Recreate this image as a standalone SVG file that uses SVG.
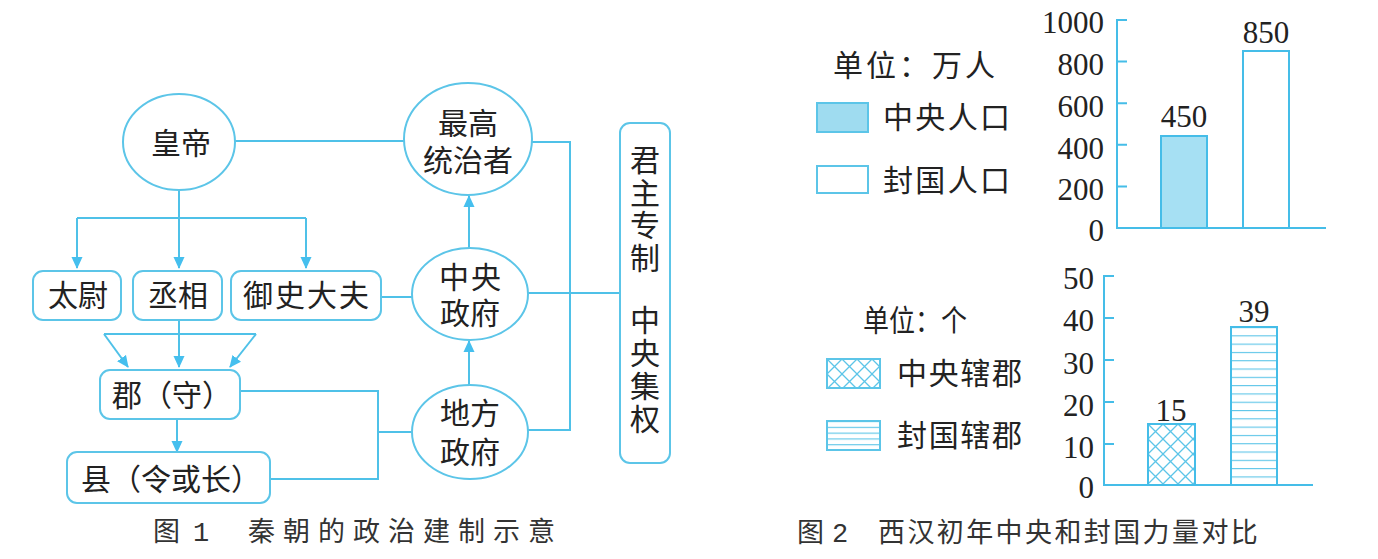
<svg xmlns="http://www.w3.org/2000/svg" width="1378" height="559" viewBox="0 0 1378 559">
<defs>
<style>
.ln{fill:none;stroke:#4fc1e8;stroke-width:2}
.nd{fill:#fff;stroke:#5cc5e8;stroke-width:2}
.cj{font-family:"Noto Sans CJK SC","Noto Sans",sans-serif;font-size:30px;fill:#222}
.vt{font-family:"Noto Sans CJK SC","Noto Sans",sans-serif;font-size:30px;fill:#222;writing-mode:vertical-rl}
.cap{font-family:"Noto Sans CJK SC","Noto Sans",sans-serif;font-size:27px;fill:#333}
.num{font-family:"Liberation Serif",serif;font-size:31px;fill:#222}
.ax{fill:none;stroke:#45bde8;stroke-width:2}
.bar{stroke:#45bde8;stroke-width:2}
</style>
<marker id="ah" viewBox="0 0 12 12" refX="11" refY="6" markerWidth="12" markerHeight="12" markerUnits="userSpaceOnUse" orient="auto">
<path d="M0,0.5 L12,6 L0,11.5 Z" fill="#45bfee"/>
</marker>
<pattern id="xh" width="15" height="15" patternUnits="userSpaceOnUse" x="1148" y="424">
<rect width="15" height="15" fill="#fff"/>
<path d="M0,0 L15,15 M15,0 L0,15" stroke="#5cc5e8" stroke-width="1.3"/>
</pattern>
<pattern id="xh2" width="15" height="15" patternUnits="userSpaceOnUse" x="827" y="359">
<rect width="15" height="15" fill="#fff"/>
<path d="M0,0 L15,15 M15,0 L0,15" stroke="#5cc5e8" stroke-width="1.3"/>
</pattern>
<pattern id="hz" width="10" height="8.3" patternUnits="userSpaceOnUse" x="0" y="327">
<rect width="10" height="8.3" fill="#fff"/>
<path d="M0,0.5 H10" stroke="#5cc5e8" stroke-width="1.2"/>
</pattern>
<pattern id="hz2" width="10" height="5.8" patternUnits="userSpaceOnUse" x="0" y="421">
<rect width="10" height="5.8" fill="#fff"/>
<path d="M0,0.5 H10" stroke="#5cc5e8" stroke-width="1.2"/>
</pattern>
</defs>
<rect width="1378" height="559" fill="#fff"/>

<g id="connectors">
<path class="ln" d="M235,141 H404"/>
<path class="ln" d="M179,190 V268" marker-end="url(#ah)"/>
<path class="ln" d="M77,218 H306"/>
<path class="ln" d="M77,218 V268" marker-end="url(#ah)"/>
<path class="ln" d="M306,218 V268" marker-end="url(#ah)"/>
<path class="ln" d="M381,297 H412"/>
<path class="ln" d="M179,320 V367" marker-end="url(#ah)"/>
<path class="ln" d="M104,334 H256"/>
<path class="ln" d="M104,334 L128,367" marker-end="url(#ah)"/>
<path class="ln" d="M256,334 L230,367" marker-end="url(#ah)"/>
<path class="ln" d="M177,419 V452" marker-end="url(#ah)"/>
<path class="ln" d="M240,391 H378 V479 H270"/>
<path class="ln" d="M378,432 H413"/>
<path class="ln" d="M469,248 V196" marker-end="url(#ah)"/>
<path class="ln" d="M469,385 V341" marker-end="url(#ah)"/>
<path class="ln" d="M532,142 H570 V430 H527"/>
<path class="ln" d="M527,293 H620"/>
</g>

<g id="n-huangdi">
<ellipse class="nd" cx="179" cy="142" rx="56" ry="48"/>
<text class="cj" x="181" y="154" text-anchor="middle">皇帝</text>
</g>
<g id="n-zuigao">
<ellipse class="nd" cx="468" cy="139" rx="64" ry="56"/>
<text class="cj" text-anchor="middle"><tspan x="468" y="134">最高</tspan><tspan x="468" y="171">统治者</tspan></text>
</g>
<g id="n-zhongyang">
<ellipse class="nd" cx="470" cy="294" rx="58" ry="46"/>
<text class="cj" text-anchor="middle"><tspan x="471" y="288" letter-spacing="2">中央</tspan><tspan x="470" y="324" letter-spacing="0">政府</tspan></text>
</g>
<g id="n-difang">
<ellipse class="nd" cx="470" cy="432" rx="58" ry="47"/>
<text class="cj" text-anchor="middle"><tspan x="470" y="424">地方</tspan><tspan x="470" y="463">政府</tspan></text>
</g>
<g id="n-taiwei">
<rect class="nd" x="33" y="271" width="88" height="49" rx="10"/>
<text class="cj" x="78" y="306" text-anchor="middle">太尉</text>
</g>
<g id="n-chengxiang">
<rect class="nd" x="133" y="271" width="89" height="49" rx="10"/>
<text class="cj" x="178" y="306" text-anchor="middle">丞相</text>
</g>
<g id="n-yushi">
<rect class="nd" x="231" y="271" width="150" height="49" rx="10"/>
<text class="cj" x="307" y="306" text-anchor="middle" letter-spacing="2">御史大夫</text>
</g>
<g id="n-jun">
<rect class="nd" x="100" y="370" width="140" height="49" rx="10"/>
<text class="cj" x="172" y="406" text-anchor="middle">郡（守）</text>
</g>
<g id="n-xian">
<rect class="nd" x="67" y="452" width="203" height="51" rx="10"/>
<text class="cj" x="171" y="490" text-anchor="middle">县（令或长）</text>
</g>
<g id="n-junzhu">
<rect class="nd" x="620" y="123" width="50" height="340" rx="10"/>
<text class="vt" x="645" y="145" letter-spacing="2.5">君主专制</text>
<text class="vt" x="645" y="305" letter-spacing="3">中央集权</text>
</g>

<g id="caption1" class="cap">
<text x="153" y="541">图</text>
<text x="193" y="541" font-family="Liberation Mono, monospace">1</text>
<text x="248" y="541" letter-spacing="8">秦朝的政治建制示意</text>
</g>

<g id="chart1">
<text class="cj" x="833" y="76" textLength="162" lengthAdjust="spacing">单位：万人</text>
<rect x="817" y="103" width="51" height="29" fill="#9fdcf0" stroke="#5cc5e8" stroke-width="2"/>
<text class="cj" x="883" y="128" textLength="127" lengthAdjust="spacing">中央人口</text>
<rect x="817" y="166" width="51" height="27" fill="#fff" stroke="#5cc5e8" stroke-width="2"/>
<text class="cj" x="883" y="191" textLength="127" lengthAdjust="spacing">封国人口</text>
<path class="ax" d="M1127,20 H1117 V228 H1326 M1117,61.6 H1127 M1117,103.2 H1127 M1117,144.8 H1127 M1117,186.4 H1127"/>
<g class="num" text-anchor="end">
<text x="1104" y="33">1000</text>
<text x="1104" y="75">800</text>
<text x="1104" y="117">600</text>
<text x="1104" y="159">400</text>
<text x="1104" y="200">200</text>
<text x="1104" y="241">0</text>
</g>
<rect class="bar" x="1161" y="136" width="46" height="92" fill="#a6e0f3"/>
<rect class="bar" x="1243" y="51" width="46" height="177" fill="#fff"/>
<text class="num" x="1184" y="127" text-anchor="middle">450</text>
<text class="num" x="1266" y="43" text-anchor="middle">850</text>
</g>

<g id="chart2">
<text class="cj" x="863" y="331" textLength="104" lengthAdjust="spacingAndGlyphs">单位：个</text>
<rect x="827" y="359" width="53" height="29" fill="url(#xh2)" stroke="#5cc5e8" stroke-width="2"/>
<text class="cj" x="897" y="384" textLength="125" lengthAdjust="spacing">中央辖郡</text>
<rect x="827" y="421" width="53" height="29" fill="url(#hz2)" stroke="#5cc5e8" stroke-width="2"/>
<text class="cj" x="897" y="446" textLength="125" lengthAdjust="spacing">封国辖郡</text>
<path class="ax" d="M1114,276 H1104 V485 H1313 M1104,318 H1114 M1104,360 H1114 M1104,402 H1114 M1104,444 H1114"/>
<g class="num" text-anchor="end">
<text x="1094" y="289">50</text>
<text x="1094" y="331">40</text>
<text x="1094" y="374">30</text>
<text x="1094" y="416">20</text>
<text x="1094" y="458">10</text>
<text x="1094" y="498">0</text>
</g>
<rect class="bar" x="1148" y="424" width="47" height="61" fill="url(#xh)"/>
<rect class="bar" x="1231" y="327" width="46" height="158" fill="url(#hz)"/>
<text class="num" x="1171" y="421" text-anchor="middle">15</text>
<text class="num" x="1254" y="322" text-anchor="middle">39</text>
</g>

<g id="caption2" class="cap">
<text x="797" y="542">图</text>
<text x="832" y="542" font-family="Liberation Mono, monospace">2</text>
<text x="878" y="542" letter-spacing="2.4">西汉初年中央和封国力量对比</text>
</g>
</svg>
